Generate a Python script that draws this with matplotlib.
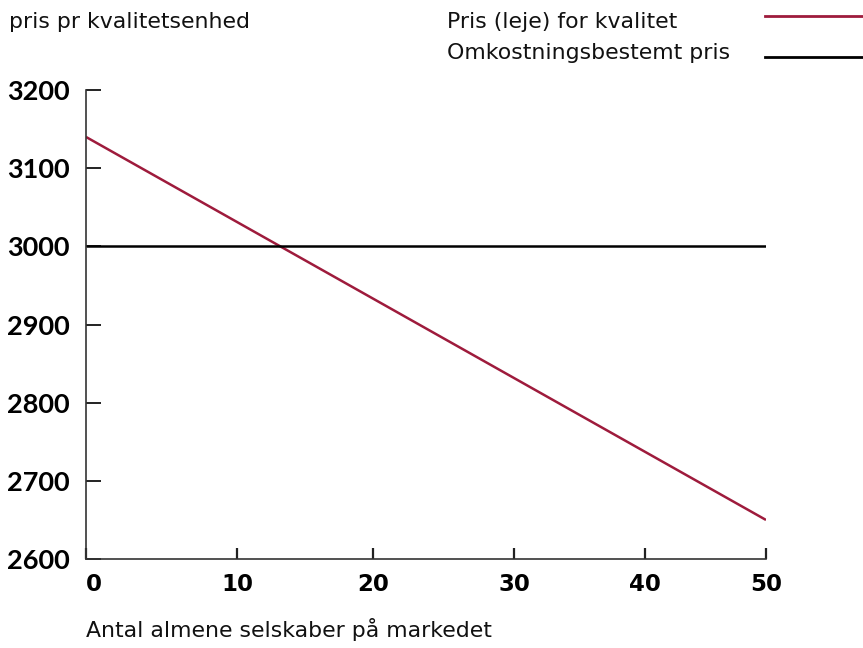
import matplotlib
matplotlib.use("Agg")
import matplotlib.pyplot as plt

# data
x_vals = [0, 50]
pris_kvalitet = [3140, 2650]
omk_pris = [3000, 3000]

# x ticks as placed in the original figure (not evenly spaced there)
x_tick_pos = [0, 11.1, 21.1, 31.5, 41.1, 50]
x_tick_lbl = ["0", "10", "20", "30", "40", "50"]
y_ticks = [2600, 2700, 2800, 2900, 3000, 3100, 3200]

RED = "#9e1b3c"

fig = plt.figure(figsize=(8.63, 6.48), dpi=100)
ax = fig.add_axes([0.0997, 0.1373, 0.7879, 0.7237])

ax.plot(x_vals, pris_kvalitet, color=RED, lw=1.8, solid_capstyle="butt")
ax.plot(x_vals, omk_pris, color="black", lw=1.8, solid_capstyle="butt")

ax.set_xlim(0, 50)
ax.set_ylim(2600, 3200)
ax.set_yticks(y_ticks)
ax.set_yticklabels([str(v) for v in y_ticks], fontfamily="Lato",
                   fontweight="bold", fontsize=19.5)
ax.set_xticks(x_tick_pos)
ax.set_xticklabels(x_tick_lbl, fontfamily="DejaVu Sans",
                   fontweight="bold", fontsize=16.5)
ax.get_xticklabels()[0].set_horizontalalignment("left")

for s in ["top", "right"]:
    ax.spines[s].set_visible(False)
for s in ["left", "bottom"]:
    ax.spines[s].set_color("#333333")
    ax.spines[s].set_linewidth(1.2)

ax.tick_params(axis="y", direction="in", length=11, width=1.4,
               color="#222222", pad=12)
ax.tick_params(axis="x", direction="in", length=8, width=1.6,
               color="#222222", pad=10)

fs = 15.8
fig.text(0.010, 0.966, "pris pr kvalitetsenhed", fontsize=fs,
         family="DejaVu Sans", color="#111111", va="center")
fig.text(0.518, 0.966, "Pris (leje) for kvalitet", fontsize=fs,
         family="DejaVu Sans", color="#111111", va="center")
fig.text(0.518, 0.918, "Omkostningsbestemt pris", fontsize=fs,
         family="DejaVu Sans", color="#111111", va="center")
fig.add_artist(plt.Line2D([0.886, 1.0], [0.975, 0.975], color=RED, lw=2,
                          transform=fig.transFigure))
fig.add_artist(plt.Line2D([0.886, 1.0], [0.912, 0.912], color="black", lw=2,
                          transform=fig.transFigure))
fig.text(0.0997, 0.028, "Antal almene selskaber på markedet", fontsize=fs,
         family="DejaVu Sans", color="#111111", va="center")

fig.savefig("out.png", dpi=100)
